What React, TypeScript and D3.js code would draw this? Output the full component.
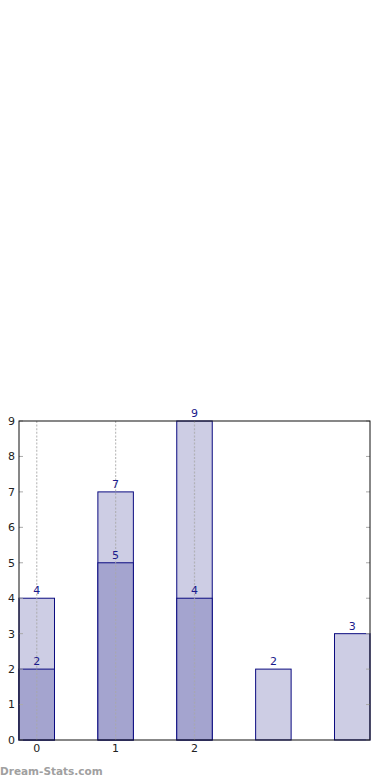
import React, { useRef, useEffect } from "react";
import * as d3 from "d3";

// back (lighter) bars, one per slot
const backSlots = [0, 1, 2, 3, 4];
const backValues = [4, 7, 9, 2, 3];
// front (darker) bars, overlaid on the first three slots
const frontSlots = [0, 1, 2];
const frontValues = [2, 5, 4];
const xTicks = [0, 1, 2];
const yTicks = [0, 1, 2, 3, 4, 5, 6, 7, 8, 9];

export default function App() {
  const svgRef = useRef<SVGSVGElement>(null);

  useEffect(() => {
    const svg = d3.select(svgRef.current);
    svg.selectAll("*").remove();

    const width = 390;
    const height = 780;
    const margin = { top: 421, right: 20, bottom: 40, left: 19 };
    const innerW = width - margin.left - margin.right;
    const innerH = height - margin.top - margin.bottom;
    const barW = 0.45;

    const g = svg.append("g").attr("transform", `translate(${margin.left},${margin.top})`);

    const x = d3.scaleLinear().domain([-barW / 2, 4 + barW / 2]).range([0, innerW]);
    const y = d3.scaleLinear().domain([0, 9]).range([innerH, 0]);
    const bw = x(barW) - x(0);

    const stroke = "#0b0b80";
    const labelColor = "#1a1a8c";

    // back bars
    g.selectAll("rect.back")
      .data(backSlots)
      .join("rect")
      .attr("class", "back")
      .attr("x", (d) => x(d) - bw / 2)
      .attr("y", (d, i) => y(backValues[i]))
      .attr("width", bw)
      .attr("height", (d, i) => innerH - y(backValues[i]))
      .attr("fill", "#cdcde4")
      .attr("stroke", stroke)
      .attr("stroke-width", 1);

    // front bars
    g.selectAll("rect.front")
      .data(frontSlots)
      .join("rect")
      .attr("class", "front")
      .attr("x", (d) => x(d) - bw / 2)
      .attr("y", (d, i) => y(frontValues[i]))
      .attr("width", bw)
      .attr("height", (d, i) => innerH - y(frontValues[i]))
      .attr("fill", "#a4a4cf")
      .attr("stroke", stroke)
      .attr("stroke-width", 1);

    // dotted vertical grid
    g.selectAll("line.grid")
      .data(xTicks)
      .join("line")
      .attr("class", "grid")
      .attr("x1", (d) => x(d))
      .attr("x2", (d) => x(d))
      .attr("y1", 0)
      .attr("y2", innerH)
      .attr("stroke", "#a8a8a8")
      .attr("stroke-opacity", 0.75)
      .attr("stroke-width", 1.2)
      .attr("stroke-dasharray", "2,1.6");

    // value labels
    const labels = [
      ...backSlots.map((s, i) => ({ s, v: backValues[i] })),
      ...frontSlots.map((s, i) => ({ s, v: frontValues[i] })),
    ];
    g.selectAll("text.val")
      .data(labels)
      .join("text")
      .attr("class", "val")
      .attr("x", (d) => x(d.s))
      .attr("y", (d) => y(d.v) - 4)
      .attr("text-anchor", "middle")
      .attr("font-family", "DejaVu Sans")
      .attr("font-size", 11)
      .attr("fill", labelColor)
      .text((d) => d.v);

    // inward ticks, left and right
    g.selectAll("line.ytl")
      .data(yTicks)
      .join("line")
      .attr("class", "ytl")
      .attr("x1", 0)
      .attr("x2", 4)
      .attr("y1", (d) => y(d))
      .attr("y2", (d) => y(d))
      .attr("stroke", "#aaa");
    g.selectAll("line.ytr")
      .data(yTicks)
      .join("line")
      .attr("class", "ytr")
      .attr("x1", innerW - 4)
      .attr("x2", innerW)
      .attr("y1", (d) => y(d))
      .attr("y2", (d) => y(d))
      .attr("stroke", "#aaa");

    // frame
    g.append("rect")
      .attr("width", innerW)
      .attr("height", innerH)
      .attr("fill", "none")
      .attr("stroke", "#111")
      .attr("stroke-width", 1);

    // tick labels
    g.selectAll("text.yl")
      .data(yTicks)
      .join("text")
      .attr("class", "yl")
      .attr("x", -4)
      .attr("y", (d) => y(d))
      .attr("dy", "0.35em")
      .attr("text-anchor", "end")
      .attr("font-family", "DejaVu Sans")
      .attr("font-size", 11)
      .attr("fill", "#222")
      .text((d) => d);
    g.selectAll("text.xl")
      .data(xTicks)
      .join("text")
      .attr("class", "xl")
      .attr("x", (d) => x(d))
      .attr("y", innerH + 12)
      .attr("text-anchor", "middle")
      .attr("font-family", "DejaVu Sans")
      .attr("font-size", 11)
      .attr("fill", "#222")
      .text((d) => d);

    // watermark
    svg.append("text")
      .attr("x", 0)
      .attr("y", 775)
      .attr("font-family", "DejaVu Sans")
      .attr("font-weight", "bold")
      .attr("font-size", 10.5)
      .attr("fill", "#a0a0a0")
      .text("Dream-Stats.com");
  }, []);

  return (
    <svg
      ref={svgRef}
      width={390}
      height={780}
      style={{ position: "absolute", left: 0, top: 0, background: "#fff" }}
    />
  );
}
